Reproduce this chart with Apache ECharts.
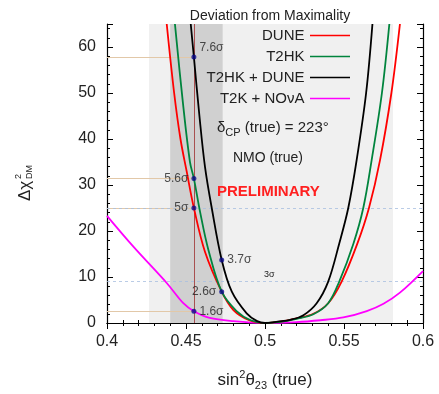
<!DOCTYPE html>
<html>
<head>
<meta charset="utf-8">
<script src="https://cdn.jsdelivr.net/npm/echarts@6/dist/echarts.min.js"></script>
<style>
  html, body { margin: 0; padding: 0; background: #fff; }
  #chart { width: 439px; height: 394px; }
</style>
</head>
<body>
<div id="chart"></div>
<script>
// curves: [sin^2 theta23, delta chi^2]
const dune = [
  [0.4378, 65], [0.4425, 50], [0.4465, 40], [0.4504, 33], [0.455, 25], [0.462, 15.5],
  [0.4726, 6.8], [0.48, 2.8], [0.49, 0.6], [0.5, 0], [0.51, 0.3], [0.52, 1.0],
  [0.5306, 2.0], [0.54, 4.3], [0.5485, 9], [0.5585, 17.3], [0.5658, 25],
  [0.5728, 35.4], [0.58, 50], [0.5854, 65]
]
const t2hk = [
  [0.443, 65], [0.448, 48], [0.4525, 35], [0.455, 31.4], [0.459, 24], [0.4641, 16],
  [0.4726, 6.8], [0.482, 2.6], [0.491, 0.6], [0.5, 0], [0.51, 0.25], [0.52, 0.9],
  [0.5306, 1.9], [0.54, 4.3], [0.547, 9], [0.556, 17.3], [0.5622, 25],
  [0.5675, 35.4], [0.574, 50], [0.5787, 65]
]
const combined = [
  [0.453, 65], [0.455, 57.8], [0.4585, 45], [0.462, 34], [0.4663, 25], [0.4726, 13.7],
  [0.479, 6.8], [0.4884, 2.1], [0.495, 0.4], [0.5, 0], [0.508, 0.3], [0.516, 0.7],
  [0.5243, 1.7], [0.5327, 4.3], [0.54, 9], [0.547, 17.3], [0.5527, 25],
  [0.558, 35.4], [0.564, 50], [0.568, 65]
]
const t2kNova = [
  [0.4, 23.3], [0.4167, 16.6], [0.4378, 8.7], [0.4483, 4.3], [0.455, 2.56], [0.465, 1.1],
  [0.48, 0.4], [0.5, 0], [0.52, 0.2], [0.535, 0.6], [0.5496, 1.2], [0.5644, 2.6],
  [0.575, 4.2], [0.5854, 6.6], [0.6, 11.3]
]

// significance markers
const markerPoints = [[0.455, 57.8], [0.455, 31.4], [0.455, 25], [0.455, 2.56], [0.4726, 13.7], [0.4726, 6.8]]
const markerLabels = ['7.6σ', '5.6σ', '5σ', '1.6σ', '3.7σ', '2.6σ']
const markerSides = ['right', 'left', 'left', 'right', 'right', 'left']
const guideLevels = [57.8, 31.4, 25, 2.56]
const dashedLevels = [25, 9]

const lightBand = [0.4266, 0.581]
const darkBand = [0.44, 0.4732]
const benchmarkX = 0.455

const xTicks = { min: 0.4, max: 0.6, step: 0.05 }
const yTicks = { min: 0, max: 65, step: 10 }

const chart = echarts.init(document.getElementById('chart'))
const font = 'Liberation Sans, Arial, sans-serif'
const lineIcon = 'path://M0 0M0 6.2H40V7.8H0Z M40 14'

const curveSeries = (name, data, color) => ({
  name,
  type: 'line',
  data,
  smooth: 0.35,
  symbol: 'none',
  z: 5,
  lineStyle: { color, width: 1.8 },
  itemStyle: { color }
})

const frameAxis = {
  axisLine: { show: true, lineStyle: { color: '#000', width: 1.2 } },
  axisTick: { inside: true, length: 6, lineStyle: { color: '#000' } },
  minorTick: { show: true, splitNumber: 5, length: 3, lineStyle: { color: '#000' } },
  splitLine: { show: false }
}

chart.setOption({
  animation: false,
  title: {
    text: 'Deviation from Maximality',
    left: 265,
    textAlign: 'center',
    top: 4,
    textStyle: { fontFamily: font, fontSize: 14, fontWeight: 'normal', color: '#222' }
  },
  legend: {
    orient: 'vertical',
    right: 84,
    top: 23,
    align: 'right',
    itemWidth: 41,
    itemHeight: 14,
    itemGap: 6,
    data: ['DUNE', 'T2HK', 'T2HK + DUNE', 'T2K + NOνA'].map((name) => ({ name, icon: lineIcon })),
    textStyle: { fontFamily: font, fontSize: 15, color: '#222', width: 100, align: 'right' }
  },
  grid: { left: 107, right: 16, top: 24, bottom: 71, outerBoundsMode: 'none' },
  xAxis: [
    {
      type: 'value',
      min: xTicks.min,
      max: xTicks.max,
      interval: xTicks.step,
      name: '{a|sin}{sup|2}{a|θ}{sub|23}{a| (true)}',
      nameLocation: 'middle',
      nameGap: 46,
      nameTextStyle: {
        rich: {
          a: { fontFamily: font, fontSize: 17, color: '#222', lineHeight: 22 },
          sup: { fontFamily: font, fontSize: 11, color: '#222', verticalAlign: 'top', lineHeight: 22 },
          sub: { fontFamily: font, fontSize: 11, color: '#222', verticalAlign: 'bottom', lineHeight: 22 }
        }
      },
      ...frameAxis,
      axisLabel: { margin: 11, fontFamily: font, fontSize: 16, color: '#222' }
    },
    {
      type: 'value',
      position: 'top',
      min: xTicks.min,
      max: xTicks.max,
      interval: xTicks.step,
      ...frameAxis,
      axisLabel: { show: false }
    }
  ],
  yAxis: [
    {
      type: 'value',
      min: yTicks.min,
      max: yTicks.max,
      interval: yTicks.step,
      ...frameAxis,
      axisLabel: { margin: 11, fontFamily: font, fontSize: 16, color: '#222', showMaxLabel: false }
    },
    {
      type: 'value',
      position: 'right',
      min: yTicks.min,
      max: yTicks.max,
      interval: yTicks.step,
      ...frameAxis,
      axisLabel: { show: false }
    }
  ],
  series: [
    {
      name: 'bands',
      type: 'line',
      data: [],
      z: 1,
      silent: true,
      markArea: {
        silent: true,
        data: [
          [{ xAxis: lightBand[0], itemStyle: { color: '#f0f0f0' } }, { xAxis: lightBand[1] }],
          [{ xAxis: darkBand[0], itemStyle: { color: '#d0d0d0' } }, { xAxis: darkBand[1] }]
        ]
      }
    },
    {
      name: 'guides',
      type: 'line',
      data: [],
      z: 2,
      silent: true,
      markLine: {
        silent: true,
        symbol: 'none',
        label: { show: false },
        data: [
          ...guideLevels.map((y) => [
            { coord: [xTicks.min, y], lineStyle: { color: '#e2c8a8', width: 1.2, type: 'solid' } },
            { coord: [benchmarkX, y] }
          ]),
          ...dashedLevels.map((y) => [
            { coord: [xTicks.min, y], lineStyle: { color: '#a9bfe0', width: 0.8, type: [3, 3] } },
            { coord: [xTicks.max, y] }
          ]),
          [
            { coord: [benchmarkX, yTicks.min], lineStyle: { color: '#a85050', width: 1, type: 'solid' } },
            { coord: [benchmarkX, yTicks.max] }
          ]
        ]
      }
    },
    curveSeries('T2K + NOνA', t2kNova, '#ff00ff'),
    curveSeries('DUNE', dune, '#ff0000'),
    curveSeries('T2HK', t2hk, '#00843d'),
    curveSeries('T2HK + DUNE', combined, '#000000'),
    {
      name: 'markers',
      type: 'scatter',
      z: 8,
      symbolSize: 5,
      itemStyle: { color: '#0a0a8a' },
      data: markerPoints.map((p, i) => ({
        value: p,
        label: {
          show: true,
          formatter: markerLabels[i],
          position: markerSides[i],
          distance: 3,
          offset: i === 0 ? [0, -9] : [0, 0],
          fontFamily: font,
          fontSize: 12,
          color: '#222'
        }
      }))
    }
  ],
  graphic: [
    {
      type: 'group',
      x: 25,
      y: 201,
      rotation: Math.PI / 2,
      z: 100,
      children: [
        { type: 'text', x: 0, y: 0, style: { text: 'Δχ', fontFamily: font, fontSize: 17, fill: '#222', verticalAlign: 'middle' } },
        { type: 'text', x: 22, y: -6, style: { text: '2', fontFamily: font, fontSize: 9, fill: '#222', verticalAlign: 'middle' } },
        { type: 'text', x: 22, y: 5, style: { text: 'DM', fontFamily: font, fontSize: 9, fill: '#222', verticalAlign: 'middle' } }
      ]
    },
    {
      type: 'text',
      left: 217,
      top: 120,
      z: 100,
      style: {
        text: '{a|δ}{sub|CP}{a| (true) = 223°}',
        rich: {
          a: { fontFamily: font, fontSize: 15, fill: '#222', lineHeight: 22 },
          sub: { fontFamily: font, fontSize: 11, fill: '#222', verticalAlign: 'bottom', lineHeight: 22 }
        }
      }
    },
    {
      type: 'text',
      left: 233,
      top: 151,
      z: 100,
      style: { text: 'NMO (true)', fontFamily: font, fontSize: 14, fill: '#222' }
    },
    {
      type: 'text',
      left: 217,
      top: 184,
      z: 100,
      style: { text: 'PRELIMINARY', fontFamily: font, fontSize: 15, fontWeight: 'bold', fill: '#ff2020' }
    },
    {
      type: 'text',
      left: 264,
      top: 270,
      z: 100,
      style: { text: '3σ', fontFamily: font, fontSize: 9, fill: '#222' }
    }
  ]
})
</script>
</body>
</html>
